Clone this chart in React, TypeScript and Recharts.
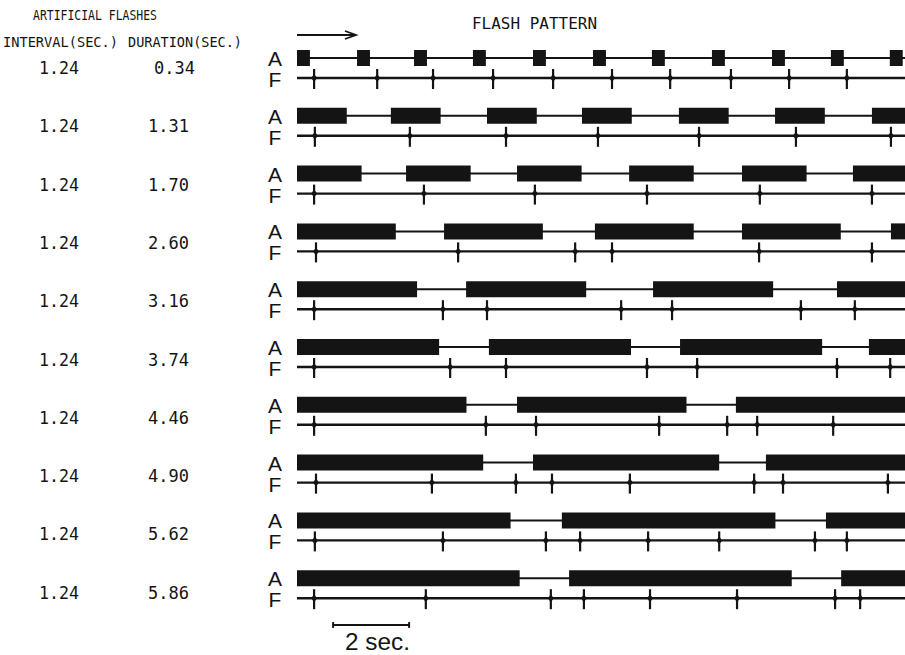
import React from 'react';
import {
  ScatterChart,
  Scatter,
  XAxis,
  YAxis,
  ReferenceArea,
  ReferenceLine,
  Customized,
} from 'recharts';

// Stimulus parameters per row (seconds)
const intervalLabels = ['1.24', '1.24', '1.24', '1.24', '1.24', '1.24', '1.24', '1.24', '1.24', '1.24'];
const durationLabels = ['0.34', '1.31', '1.70', '2.60', '3.16', '3.74', '4.46', '4.90', '5.62', '5.86'];
const durations = [0.34, 1.31, 1.7, 2.6, 3.16, 3.74, 4.46, 4.9, 5.62, 5.86];

// Onset times (s) of the artificial flashes, one list per row
const artificialOnsets = [
  [0, 1.58, 3.08, 4.63, 6.21, 7.79, 9.34, 10.92, 12.5, 14.05, 15.6],
  [0, 2.47, 5.0, 7.5, 10.05, 12.58, 15.13],
  [0, 2.87, 5.79, 8.74, 11.71, 14.63],
  [0, 3.87, 7.84, 11.71, 15.63],
  [0, 4.45, 9.37, 14.21],
  [0, 5.05, 10.08, 15.05],
  [0, 5.79, 11.55],
  [0, 6.21, 12.34],
  [0, 6.97, 13.92],
  [0, 7.16, 14.32],
];

// Times (s) of the firefly's flashes, one list per row
const fireflyFlashes = [
  [0.45, 2.11, 3.58, 5.16, 6.74, 8.29, 9.82, 11.42, 12.95, 14.47],
  [0.47, 2.97, 5.5, 7.92, 10.58, 13.13, 15.63],
  [0.45, 3.34, 6.26, 9.21, 12.18, 15.13],
  [0.5, 4.24, 7.32, 8.29, 12.16, 15.13],
  [0.45, 3.84, 5.0, 8.53, 9.87, 13.26, 14.68],
  [0.45, 4.03, 5.5, 9.21, 10.53, 14.21, 15.61],
  [0.45, 4.97, 6.29, 9.53, 11.32, 12.11, 14.11],
  [0.5, 3.55, 5.76, 6.71, 8.76, 12.03, 12.79, 15.55],
  [0.47, 3.84, 6.55, 7.45, 9.24, 11.11, 13.63, 14.47],
  [0.45, 3.39, 6.68, 7.55, 9.29, 11.58, 14.16, 14.82],
];

const SCALE_BAR_SEC = 2;

// Layout
const W = 905;
const H = 655;
const PLOT_LEFT = 297;
const T_END = 16;
const ROW_PX = 57.8; // pixels per row unit on the y axis
const Y_END = H / ROW_PX;
const F_FIRST = 78 / ROW_PX;
const A_OFFSET = 20 / ROW_PX;
const BLOCK_HALF = 8 / ROW_PX;
const SCALE_Y = 625 / ROW_PX;
const SCALE_X0 = 0.95;

const INK = '#141414';
const MONO = '"DejaVu Sans Mono", "Liberation Mono", monospace';
const SANS = '"Liberation Sans", "DejaVu Sans", Arial, sans-serif';

const fY = (i: number) => F_FIRST + i;
const aY = (i: number) => F_FIRST + i - A_OFFSET;
const fPx = (i: number) => fY(i) * ROW_PX;

const tickData = fireflyFlashes.flatMap((row, i) => row.map((t) => ({ x: t, y: fY(i) })));

const FlashTick = (props: any) => {
  const { cx, cy } = props;
  if (cx == null || cy == null) return null;
  return (
    <g>
      <line x1={cx} x2={cx} y1={cy - 9} y2={cy + 11} stroke={INK} strokeWidth={2.2} />
      <path d={`M${cx - 3},${cy} L${cx},${cy - 4} L${cx + 3},${cy} L${cx},${cy + 4} Z`} fill={INK} />
    </g>
  );
};

const Annotations = () => (
  <g>
    <text x={33} y={20} fontFamily={MONO} fontSize={14} fill={INK} textLength={124} lengthAdjust="spacingAndGlyphs">
      ARTIFICIAL FLASHES
    </text>
    <text x={3} y={47} fontFamily={MONO} fontSize={14} fill={INK} textLength={115} lengthAdjust="spacingAndGlyphs">
      INTERVAL(SEC.)
    </text>
    <text x={128} y={47} fontFamily={MONO} fontSize={14} fill={INK} textLength={114} lengthAdjust="spacingAndGlyphs">
      DURATION(SEC.)
    </text>
    <text x={472} y={29} fontFamily={MONO} fontSize={15} fill={INK} textLength={125} lengthAdjust="spacingAndGlyphs">
      FLASH PATTERN
    </text>
    {/* direction of time */}
    <line x1={297} x2={354} y1={35} y2={35} stroke={INK} strokeWidth={1.8} />
    <path d="M345,31 L356,35 L345,39" fill="none" stroke={INK} strokeWidth={1.8} />
    {intervalLabels.map((lab, i) => (
      <text
        key={`iv${i}`}
        x={39}
        y={fPx(i) - 4 + i * 0.5}
        fontFamily={MONO}
        fontSize={18}
        fill={INK}
        textLength={40}
        lengthAdjust="spacingAndGlyphs"
      >
        {lab}
      </text>
    ))}
    {durationLabels.map((lab, i) => (
      <text
        key={`du${i}`}
        x={i === 0 ? 154 : 148}
        y={fPx(i) - 4 + i * 0.5}
        fontFamily={MONO}
        fontSize={18}
        fill={INK}
        textLength={41}
        lengthAdjust="spacingAndGlyphs"
      >
        {lab}
      </text>
    ))}
    {/* series labels: A = artificial light, F = firefly */}
    {durations.map((_, i) => (
      <text key={`af${i}`} x={275} y={fPx(i) - 12} textAnchor="middle" fontFamily={SANS} fontSize={21} fill={INK}>
        <tspan x={275}>A</tspan>
        <tspan x={275} dy={21}>F</tspan>
      </text>
    ))}
    <text x={345} y={650} fontFamily={SANS} fontSize={23} fill={INK} textLength={65} lengthAdjust="spacingAndGlyphs">
      2 sec.
    </text>
  </g>
);

export default function App() {
  return (
    <div style={{ position: 'absolute', left: 0, top: 0, width: W, height: H, background: '#fff' }}>
      <ScatterChart width={W} height={H} margin={{ top: 0, right: 0, bottom: 0, left: PLOT_LEFT }}>
        <XAxis type="number" dataKey="x" domain={[0, T_END]} allowDataOverflow hide />
        <YAxis type="number" dataKey="y" domain={[0, Y_END]} reversed allowDataOverflow hide />

        {durations.map((_, i) => (
          <ReferenceLine key={`al${i}`} y={aY(i)} stroke={INK} strokeWidth={2} ifOverflow="visible" />
        ))}
        {durations.map((_, i) => (
          <ReferenceLine key={`fl${i}`} y={fY(i)} stroke={INK} strokeWidth={2.4} ifOverflow="visible" />
        ))}

        {artificialOnsets.flatMap((row, i) =>
          row.map((t, k) => (
            <ReferenceArea
              key={`blk${i}-${k}`}
              x1={t}
              x2={Math.min(t + durations[i], T_END)}
              y1={aY(i) - BLOCK_HALF}
              y2={aY(i) + BLOCK_HALF}
              fill={INK}
              fillOpacity={1}
              stroke="none"
              ifOverflow="hidden"
            />
          ))
        )}

        <Scatter data={tickData} shape={FlashTick} isAnimationActive={false} />

        {/* 2-second scale bar */}
        <ReferenceLine
          segment={[
            { x: SCALE_X0, y: SCALE_Y },
            { x: SCALE_X0 + SCALE_BAR_SEC, y: SCALE_Y },
          ]}
          stroke={INK}
          strokeWidth={2}
          ifOverflow="visible"
        />
        <ReferenceLine
          segment={[
            { x: SCALE_X0, y: SCALE_Y - 0.05 },
            { x: SCALE_X0, y: SCALE_Y + 0.05 },
          ]}
          stroke={INK}
          strokeWidth={2}
          ifOverflow="visible"
        />
        <ReferenceLine
          segment={[
            { x: SCALE_X0 + SCALE_BAR_SEC, y: SCALE_Y - 0.05 },
            { x: SCALE_X0 + SCALE_BAR_SEC, y: SCALE_Y + 0.05 },
          ]}
          stroke={INK}
          strokeWidth={2}
          ifOverflow="visible"
        />

        <Customized component={<Annotations />} />
      </ScatterChart>
    </div>
  );
}
